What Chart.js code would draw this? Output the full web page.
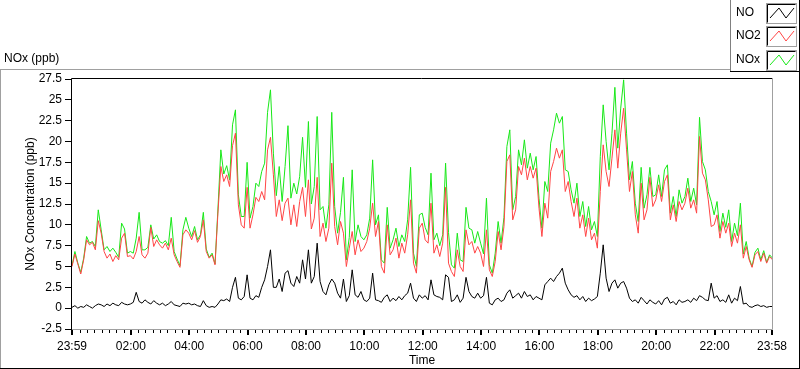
<!DOCTYPE html>
<html><head><meta charset="utf-8">
<script src="https://cdn.jsdelivr.net/npm/chart.js@4.4.0/dist/chart.umd.min.js"></script>
<style>html,body{margin:0;padding:0;background:#fff;}#wrap{position:relative;width:800px;height:369px;}</style>
</head><body><div id="wrap"><canvas id="c" width="800" height="369"></canvas></div>
<script>
// sampling grid: one reading every 6 minutes starting at 23:59
const sampleStepMinutes = 6;
const tickMinutes = [0,121,241,361,481,601,721,841,961,1081,1201,1321,1439];
const tickLabels = ['23:59','02:00','04:00','06:00','08:00','10:00','12:00','14:00','16:00','18:00','20:00','22:00','23:58'];
const seriesNames = ['NO','NO2','NOx'];

const no2 = [
 5.0,6.5,5.3,4.1,5.8,8.2,7.6,7.9,7.0,10.5,
 9.0,6.8,6.0,6.5,5.6,6.3,5.8,8.4,9.0,6.2,
 6.3,5.9,6.8,8.6,6.4,6.0,6.6,9.7,7.4,8.2,
 7.6,7.2,7.8,7.0,8.4,6.4,5.6,4.9,8.8,9.4,
 9.0,8.2,9.3,7.9,8.6,10.6,6.8,6.0,6.4,5.2,
 11.4,17.0,15.2,16.0,14.6,19.5,21.0,12.4,10.0,9.6,
 14.5,9.6,11.2,13.3,12.8,14.0,13.0,19.0,20.5,16.0,
 11.0,13.0,10.5,12.6,13.2,10.0,12.4,9.8,12.8,14.5,
 11.0,15.4,9.5,10.8,15.7,8.6,10.2,8.0,9.6,17.4,
 9.8,7.6,10.4,9.0,5.0,7.2,9.2,6.4,8.2,6.8,
 7.2,8.0,9.6,12.6,8.6,10.4,5.0,4.2,10.0,6.4,
 7.0,8.4,6.0,7.8,6.6,8.8,13.0,5.4,4.2,9.6,
 10.2,8.2,7.8,12.6,6.6,7.6,6.2,7.8,14.5,5.4,
 4.4,3.8,7.0,5.0,4.4,9.4,7.6,8.0,6.6,7.4,
 6.6,5.0,9.4,4.6,3.8,5.6,9.2,7.0,9.8,17.6,
 18.4,10.6,11.8,17.0,16.0,18.0,15.4,17.0,15.6,16.8,
 12.0,8.6,12.6,10.8,16.4,17.6,19.2,18.0,19.0,14.0,
 15.2,12.8,11.0,13.2,9.6,11.2,8.6,10.8,8.2,9.0,
 7.2,14.0,19.6,16.4,14.6,18.0,21.4,16.8,21.0,24.0,
 19.0,14.0,16.4,11.2,9.0,15.0,10.6,11.8,15.7,12.2,
 13.0,14.8,12.8,15.2,16.0,10.6,12.4,10.4,12.8,11.8,
 12.6,14.4,12.0,13.0,11.4,20.6,16.2,15.4,13.0,9.8,
 10.0,11.2,8.4,10.4,9.0,10.2,7.4,9.0,7.8,10.0,
 6.0,7.4,5.8,4.9,6.4,6.8,5.6,6.6,5.4,6.2,5.8
];
const nox = [
 5.1,6.8,5.4,4.3,6.0,8.6,7.8,8.0,7.4,11.8,
 9.4,7.0,7.4,6.8,7.2,6.7,6.1,10.2,9.5,6.6,
 6.8,6.6,8.4,11.5,7.0,7.0,7.3,10.0,8.3,8.8,
 8.0,7.8,8.1,7.5,10.9,6.8,5.9,5.1,9.4,10.9,
 9.6,8.6,9.8,8.2,8.8,11.5,7.1,6.1,6.6,5.3,
 11.9,19.0,16.1,17.1,15.4,22.0,23.8,13.6,11.0,11.0,
 17.5,10.8,12.2,15.0,14.6,16.4,17.4,23.5,26.2,18.6,
 13.5,17.0,12.8,17.0,21.9,13.2,15.0,13.7,15.8,20.5,
 14.5,22.4,12.5,14.6,23.0,11.8,12.2,9.6,12.4,23.5,
 12.2,9.0,11.5,15.7,5.8,8.5,16.6,8.0,10.0,8.6,
 8.2,8.8,10.8,17.8,10.0,11.2,5.8,5.4,12.1,7.2,
 8.2,9.6,7.4,8.8,8.0,10.6,16.9,6.6,5.0,11.2,
 11.4,9.7,8.8,16.2,8.2,9.0,7.5,8.8,17.4,9.1,
 5.2,4.8,9.0,5.8,5.6,12.1,9.6,9.4,7.8,9.2,
 7.8,6.5,13.2,5.2,4.2,6.6,10.4,7.8,10.9,19.4,
 21.4,11.8,13.4,19.0,17.2,20.2,16.8,18.6,16.6,18.2,
 13.2,9.6,15.2,14.0,19.8,21.4,23.4,22.2,23.0,16.6,
 16.4,14.2,12.6,15.0,11.0,12.8,9.8,12.2,9.4,10.4,
 8.6,18.2,24.4,20.0,16.6,21.0,26.5,19.2,24.0,27.4,
 21.0,15.4,17.6,12.6,10.4,16.9,12.0,13.6,16.9,13.4,
 13.6,16.0,13.4,16.6,17.2,11.4,13.4,11.0,14.2,12.6,
 13.4,15.6,12.8,14.4,12.4,22.9,17.6,16.6,14.0,12.8,
 11.2,12.8,9.2,11.4,9.7,11.8,8.0,10.2,8.7,12.6,
 6.5,8.0,6.0,5.0,6.7,7.2,5.8,6.9,5.5,6.4,6.0
];
const no = [
 0.1,0.3,0.0,0.2,0.1,0.4,0.2,0.0,0.3,0.5,
 0.4,0.2,0.5,0.3,0.6,0.4,0.3,0.7,0.5,0.4,
 0.5,0.7,1.9,0.8,0.6,1.0,0.7,0.5,0.9,0.6,
 0.4,0.6,0.3,0.5,0.8,0.4,0.3,0.2,0.6,0.5,
 0.6,0.4,0.5,0.3,0.2,0.9,0.3,0.1,0.2,0.1,
 0.5,1.0,0.9,1.1,0.8,2.5,3.7,1.2,1.0,1.4,
 4.0,1.2,1.0,1.5,1.3,2.5,3.4,5.0,7.0,2.5,
 2.5,3.5,2.0,4.2,4.5,3.0,2.6,3.8,3.0,5.8,
 3.5,7.0,3.0,3.8,7.8,3.2,2.0,1.6,2.8,3.5,
 3.0,1.8,1.2,3.5,0.8,1.5,4.6,1.6,1.3,2.0,
 1.0,0.8,1.2,4.2,1.0,0.9,0.7,1.3,1.6,0.8,
 1.2,0.9,1.4,1.0,1.5,1.8,3.0,1.2,0.8,1.6,
 1.2,1.5,1.0,3.4,1.6,1.4,1.3,1.0,4.0,3.7,
 0.8,1.0,1.6,0.7,1.2,3.7,2.0,1.4,1.2,1.8,
 1.2,1.5,3.7,0.6,0.4,1.0,1.2,0.8,1.0,1.8,
 2.2,1.2,1.5,1.8,1.2,2.0,1.4,1.6,1.0,1.4,
 1.2,1.0,2.8,3.2,3.6,3.2,3.8,4.2,4.8,3.0,
 2.2,1.6,1.3,1.5,1.0,1.4,0.8,1.2,0.9,1.1,
 1.4,4.2,7.6,3.6,2.0,3.0,3.4,2.4,3.0,3.2,
 2.4,1.2,0.8,1.0,0.6,1.3,0.9,0.5,1.0,0.7,
 0.5,0.9,0.4,1.1,1.3,0.6,0.8,0.4,1.0,0.7,
 0.8,1.0,0.7,1.2,0.9,1.5,1.3,1.0,0.9,3.0,
 1.2,1.5,0.8,1.0,0.7,1.6,0.6,1.2,0.9,2.6,
 0.5,0.6,0.2,0.1,0.3,0.4,0.2,0.3,0.1,0.2,0.2
];

const colors = {NO:'#000000', NO2:'#ff4545', NOx:'#18e818'};
const FONT = 'Liberation Sans';

function toXY(arr){ return arr.map((v,i)=>({x:i*sampleStepMinutes, y:v})); }

const framePlugin = {
  id:'frame',
  afterDraw(chart){
    const ctx = chart.ctx, a = chart.chartArea, xs = chart.scales.x;
    ctx.save();
    // outer frame
    ctx.lineWidth = 1;
    ctx.strokeStyle = '#a0a0a0';
    ctx.beginPath(); ctx.moveTo(0,69.5); ctx.lineTo(730,69.5); ctx.moveTo(0.5,69); ctx.lineTo(0.5,369); ctx.stroke();
    ctx.strokeStyle = '#000';
    ctx.beginPath(); ctx.moveTo(0,368.5); ctx.lineTo(800,368.5); ctx.moveTo(799.5,0); ctx.lineTo(799.5,369); ctx.stroke();
    // legend box
    ctx.strokeStyle = '#808080';
    ctx.beginPath(); ctx.moveTo(730.5,0); ctx.lineTo(730.5,72); ctx.stroke();
    ctx.strokeStyle = '#000';
    ctx.beginPath(); ctx.moveTo(730,71.5); ctx.lineTo(800,71.5); ctx.stroke();
    // plot frame
    ctx.strokeStyle = '#000';
    ctx.beginPath(); ctx.moveTo(a.left-0.5, a.bottom); ctx.lineTo(a.left-0.5, a.top-0.5); ctx.lineTo(a.right, a.top-0.5); ctx.stroke();
    ctx.strokeStyle = '#a0a0a0';
    ctx.beginPath(); ctx.moveTo(a.left, a.bottom+0.5); ctx.lineTo(a.right+0.5, a.bottom+0.5); ctx.lineTo(a.right+0.5, a.top-1); ctx.stroke();
    // x ticks
    ctx.fillStyle = '#000';
    for (let m = 1; m < 1439; m += 15) {
      if (tickMinutes.includes(m)) continue;
      const px = Math.round(xs.getPixelForValue(m));
      ctx.fillRect(px, a.bottom+1, 1, 3);
    }
    tickMinutes.forEach(m => {
      const px = Math.round(xs.getPixelForValue(m));
      ctx.fillRect(px-1, a.bottom+1, 2, 5);
    });
    // header label
    ctx.font = '12px "' + FONT + '"';
    ctx.textBaseline = 'middle';
    ctx.textAlign = 'left';
    ctx.fillStyle = '#000';
    ctx.fillText('NOx (ppb)', 4, 59);
    // legend
    const rows = [13, 36, 60];
    seriesNames.forEach((name, k) => {
      const cy = rows[k];
      ctx.fillStyle = '#000';
      ctx.fillText(name, 736, cy);
      ctx.fillStyle = '#fff';
      ctx.fillRect(767, cy-9, 29, 19);
      ctx.strokeStyle = '#a0a0a0';
      ctx.strokeRect(766.5, cy-9.5, 30, 20);
      ctx.strokeStyle = '#000';
      ctx.beginPath(); ctx.moveTo(767.5, cy+9.5); ctx.lineTo(767.5, cy-8.5); ctx.lineTo(795.5, cy-8.5); ctx.stroke();
      ctx.strokeStyle = colors[name];
      ctx.beginPath();
      ctx.moveTo(770, cy+5); ctx.lineTo(779, cy-5); ctx.lineTo(786, cy+5); ctx.lineTo(794, cy-5);
      ctx.stroke();
    });
    ctx.restore();
  }
};

new Chart(document.getElementById('c'), {
  type:'line',
  data:{ datasets:[
    {label:'NO', data:toXY(no), borderColor:colors.NO, borderWidth:1, pointRadius:0, order:0},
    {label:'NO2', data:toXY(no2), borderColor:colors.NO2, borderWidth:1, pointRadius:0, order:1},
    {label:'NOx', data:toXY(nox), borderColor:colors.NOx, borderWidth:1, pointRadius:0, order:2}
  ]},
  options:{
    responsive:false, animation:false,
    layout:{padding:{top:79, right:28, left:0, bottom:0}},
    plugins:{legend:{display:false}, tooltip:{enabled:false}},
    elements:{line:{tension:0}},
    scales:{
      x:{type:'linear', min:0, max:1439,
        afterBuildTicks:s=>{ s.ticks = tickMinutes.map(v=>({value:v})); },
        afterFit:s=>{ s.height = 40; },
        ticks:{autoSkip:false, maxRotation:0, color:'#000', font:{family:FONT,size:12}, padding:2,
          callback:(v)=>{ const i = tickMinutes.indexOf(v); return i>=0 ? tickLabels[i] : ''; }},
        grid:{display:true, drawOnChartArea:false, drawTicks:true, tickLength:8, color:'rgba(0,0,0,0)'},
        border:{display:false},
        title:{display:true, text:'Time', color:'#000', font:{family:FONT,size:12}, padding:{top:0,bottom:1}}
      },
      y:{min:-2.5, max:27.5,
        afterFit:s=>{ s.width = 72; },
        ticks:{stepSize:2.5, color:'#000', font:{family:FONT,size:12}, padding:3},
        grid:{drawOnChartArea:false, drawTicks:true, tickLength:7, color:'#000'},
        border:{display:false},
        title:{display:true, text:'NOx Concentration (ppb)', color:'#000', font:{family:FONT,size:12}, padding:{top:23,bottom:0}}
      }
    }
  },
  plugins:[framePlugin]
});
</script></body></html>
